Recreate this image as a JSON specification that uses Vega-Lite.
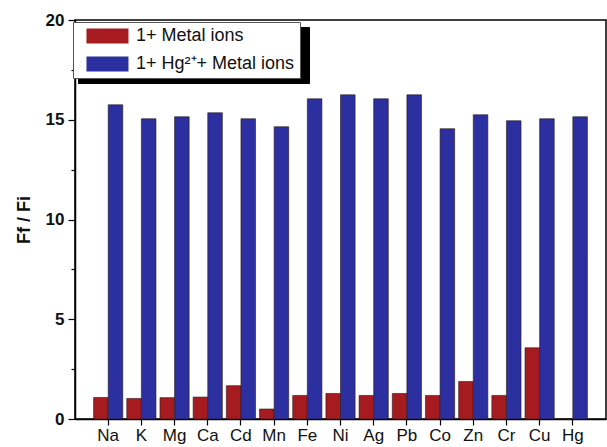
{
  "$schema": "https://vega.github.io/schema/vega-lite/v6.json",
  "width": 531,
  "height": 399,
  "autosize": {"type": "none"},
  "padding": {"left": 75, "top": 20, "right": 1, "bottom": 28},
  "background": "white",
  "config": {
    "font": "Liberation Sans",
    "view": {"stroke": "black", "strokeWidth": 1.5}
  },
  "datasets": {
    "ratios": [
      {"ion": "Na", "series": "1+ Metal ions", "value": 1.08},
      {"ion": "K", "series": "1+ Metal ions", "value": 1.03},
      {"ion": "Mg", "series": "1+ Metal ions", "value": 1.07},
      {"ion": "Ca", "series": "1+ Metal ions", "value": 1.1},
      {"ion": "Cd", "series": "1+ Metal ions", "value": 1.67},
      {"ion": "Mn", "series": "1+ Metal ions", "value": 0.5},
      {"ion": "Fe", "series": "1+ Metal ions", "value": 1.18},
      {"ion": "Ni", "series": "1+ Metal ions", "value": 1.28},
      {"ion": "Ag", "series": "1+ Metal ions", "value": 1.18},
      {"ion": "Pb", "series": "1+ Metal ions", "value": 1.28},
      {"ion": "Co", "series": "1+ Metal ions", "value": 1.18},
      {"ion": "Zn", "series": "1+ Metal ions", "value": 1.88},
      {"ion": "Cr", "series": "1+ Metal ions", "value": 1.18},
      {"ion": "Cu", "series": "1+ Metal ions", "value": 3.57},
      {"ion": "Hg", "series": "1+ Metal ions", "value": 0},
      {"ion": "Na", "series": "1+ Hg²⁺+ Metal ions", "value": 15.75},
      {"ion": "K", "series": "1+ Hg²⁺+ Metal ions", "value": 15.05},
      {"ion": "Mg", "series": "1+ Hg²⁺+ Metal ions", "value": 15.15},
      {"ion": "Ca", "series": "1+ Hg²⁺+ Metal ions", "value": 15.35},
      {"ion": "Cd", "series": "1+ Hg²⁺+ Metal ions", "value": 15.05},
      {"ion": "Mn", "series": "1+ Hg²⁺+ Metal ions", "value": 14.65},
      {"ion": "Fe", "series": "1+ Hg²⁺+ Metal ions", "value": 16.05},
      {"ion": "Ni", "series": "1+ Hg²⁺+ Metal ions", "value": 16.25},
      {"ion": "Ag", "series": "1+ Hg²⁺+ Metal ions", "value": 16.05},
      {"ion": "Pb", "series": "1+ Hg²⁺+ Metal ions", "value": 16.25},
      {"ion": "Co", "series": "1+ Hg²⁺+ Metal ions", "value": 14.55},
      {"ion": "Zn", "series": "1+ Hg²⁺+ Metal ions", "value": 15.25},
      {"ion": "Cr", "series": "1+ Hg²⁺+ Metal ions", "value": 14.95},
      {"ion": "Cu", "series": "1+ Hg²⁺+ Metal ions", "value": 15.05},
      {"ion": "Hg", "series": "1+ Hg²⁺+ Metal ions", "value": 15.15}
    ],
    "shadowEntries": [
      {"entry": "1+ Metal ions"},
      {"entry": "1+ Hg²⁺+ Metal ions"}
    ]
  },
  "layer": [
    {
      "data": {"name": "ratios"},
      "mark": {"type": "bar", "stroke": "#2a1a1a", "strokeWidth": 0.6},
      "encoding": {
        "x": {
          "field": "ion",
          "type": "nominal",
          "sort": ["Na", "K", "Mg", "Ca", "Cd", "Mn", "Fe", "Ni", "Ag", "Pb", "Co", "Zn", "Cr", "Cu", "Hg"],
          "scale": {"paddingInner": 0.12, "paddingOuter": 0.56},
          "axis": {
            "title": null,
            "labelAngle": 0,
            "labelFontSize": 17,
            "labelColor": "#111",
            "labelPadding": 2,
            "tickSize": 6,
            "tickColor": "black",
            "tickWidth": 1.2,
            "domainColor": "black",
            "domainWidth": 1.5
          }
        },
        "xOffset": {
          "field": "series",
          "type": "nominal",
          "scale": {"domain": ["1+ Metal ions", "1+ Hg²⁺+ Metal ions"]}
        },
        "y": {
          "field": "value",
          "type": "quantitative",
          "scale": {"domain": [0, 20], "nice": false},
          "axis": {
            "values": [0, 2.5, 5, 7.5, 10, 12.5, 15, 17.5, 20],
            "labelExpr": "datum.value % 5 === 0 ? datum.label : ''",
            "title": "Ff / Fi",
            "titleFontSize": 18,
            "titleFontWeight": "bold",
            "titleColor": "#111",
            "titlePadding": 12,
            "labelFontSize": 17,
            "labelFontWeight": "bold",
            "labelColor": "#111",
            "labelPadding": 4,
            "tickSize": {"condition": {"test": "datum.value % 5 === 0", "value": 7}, "value": 4},
            "tickColor": "black",
            "tickWidth": 1.2,
            "domainColor": "black",
            "domainWidth": 1.5,
            "grid": false
          }
        },
        "color": {
          "field": "series",
          "type": "nominal",
          "scale": {
            "domain": ["1+ Metal ions", "1+ Hg²⁺+ Metal ions"],
            "range": ["#a51b1f", "#2b2f9f"]
          },
          "legend": {
            "orient": "none",
            "legendX": -2,
            "legendY": 2,
            "zindex": 2,
            "title": null,
            "fillColor": "white",
            "strokeColor": "#555",
            "padding": 5,
            "rowPadding": 10,
            "labelFontSize": 18,
            "labelColor": "#111",
            "labelOffset": 40,
            "symbolType": "M-0.07,-1H5.53V1H-0.07Z",
            "symbolSize": 225,
            "symbolStrokeWidth": 0,
            "symbolOpacity": 1
          }
        }
      }
    },
    {
      "data": {"name": "shadowEntries"},
      "mark": {"type": "point", "filled": true, "opacity": 0},
      "encoding": {
        "fill": {
          "field": "entry",
          "type": "nominal",
          "scale": {"range": ["black", "black"]},
          "legend": {
            "orient": "none",
            "legendX": 3,
            "legendY": 7,
            "zindex": 1,
            "title": null,
            "fillColor": "black",
            "strokeColor": "black",
            "padding": 5,
            "rowPadding": 10,
            "labelFontSize": 18,
            "labelExpr": "''",
            "labelOffset": 203,
            "symbolType": "M-0.07,-1H5.53V1H-0.07Z",
            "symbolSize": 225,
            "symbolFillColor": "black",
            "symbolStrokeWidth": 0,
            "symbolOpacity": 1
          }
        }
      }
    }
  ]
}
